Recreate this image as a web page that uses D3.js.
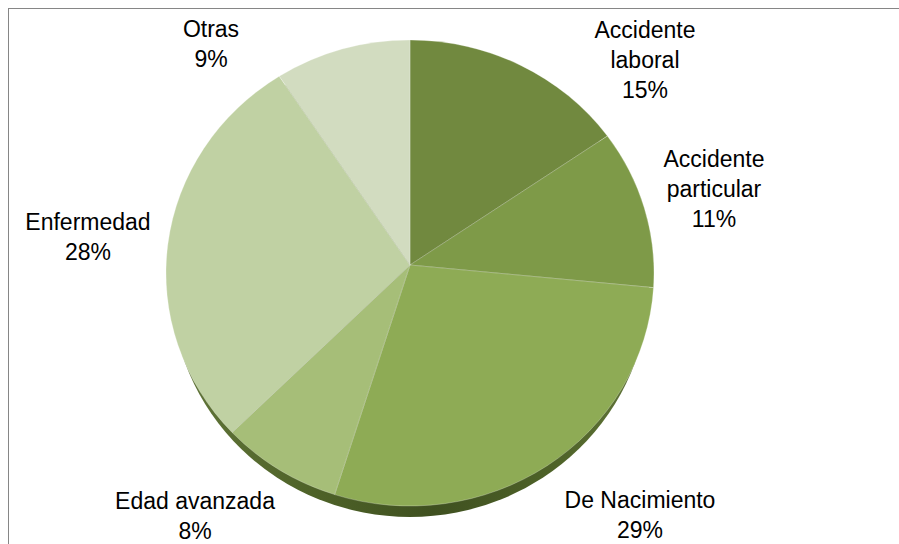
<!DOCTYPE html>
<html>
<head>
<meta charset="utf-8">
<script src="https://cdn.jsdelivr.net/npm/d3@7"></script>
<style>
  html, body { margin: 0; padding: 0; background: #ffffff; }
  svg { display: block; }
  text { font-family: "Liberation Sans", Arial, sans-serif; }
</style>
</head>
<body>
<svg id="chart" width="899" height="544"></svg>
<script>
// ---- data ----
const categories = ["Accidente laboral", "Accidente particular", "De Nacimiento", "Edad avanzada", "Enfermedad", "Otras"];
const values = [15, 11, 29, 8, 28, 9];
const labelLines = [["Accidente", "laboral"], ["Accidente", "particular"], ["De Nacimiento"], ["Edad avanzada"], ["Enfermedad"], ["Otras"]];
const percentLabels = ["15%", "11%", "29%", "8%", "28%", "9%"];

// ---- styles / layout ----
const colors = ["#71893f", "#7e9a48", "#8eab55", "#a6be78", "#c0d1a3", "#d2dcc0"];
const labelAt = [[645, 38], [714, 167], [640, 508], [195, 509], [88, 230], [211, 37]];
const lineH = 30;

const W = 899, H = 544;
const cx = 410, cy = 273, rx = 244, ry = 233, apexY = 265, depth = 11;

const svg = d3.select("#chart");

// frame
svg.append("rect")
  .attr("x", 8.5).attr("y", 8.5)
  .attr("width", W + 20).attr("height", H + 20)
  .attr("fill", "#ffffff")
  .attr("stroke", "#868686").attr("stroke-width", 1);

const defs = svg.append("defs");
const sideGrad = defs.append("linearGradient").attr("id", "side").attr("x1", "0").attr("x2", "1").attr("y1", "0").attr("y2", "0");
sideGrad.append("stop").attr("offset", "0").attr("stop-color", "#62763a");
sideGrad.append("stop").attr("offset", "0.3").attr("stop-color", "#4e6228");
sideGrad.append("stop").attr("offset", "0.55").attr("stop-color", "#3f5020");
sideGrad.append("stop").attr("offset", "0.8").attr("stop-color", "#4e6228");
sideGrad.append("stop").attr("offset", "1").attr("stop-color", "#62763a");

// side (depth)
svg.append("ellipse")
  .attr("cx", cx).attr("cy", cy + depth)
  .attr("rx", rx - 5).attr("ry", ry)
  .attr("fill", "url(#side)");

// slices
const pie = d3.pie().sort(null).value(d => d);
const arcs = pie(values);

function pt(a) {
  return [cx + rx * Math.sin(a), cy - ry * Math.cos(a)];
}
function slicePath(d) {
  const p0 = pt(d.startAngle), p1 = pt(d.endAngle);
  const large = (d.endAngle - d.startAngle) > Math.PI ? 1 : 0;
  return `M${cx},${apexY}L${p0[0]},${p0[1]}A${rx},${ry} 0 ${large} 1 ${p1[0]},${p1[1]}Z`;
}

svg.append("g").selectAll("path")
  .data(arcs)
  .join("path")
  .attr("d", slicePath)
  .attr("fill", (d, i) => colors[i])
  .attr("stroke", "rgba(255,255,255,0.25)")
  .attr("stroke-width", 1)
  .attr("stroke-linejoin", "round");

// labels
const lg = svg.append("g");
arcs.forEach((d, i) => {
  const lines = labelLines[i].concat([percentLabels[i]]);
  const t = lg.append("text")
    .attr("text-anchor", "middle")
    .attr("font-size", 23)
    .attr("fill", "#000");
  lines.forEach((s, k) => {
    t.append("tspan")
      .attr("x", labelAt[i][0])
      .attr("y", labelAt[i][1] + k * lineH)
      .text(s);
  });
});
</script>
</body>
</html>
